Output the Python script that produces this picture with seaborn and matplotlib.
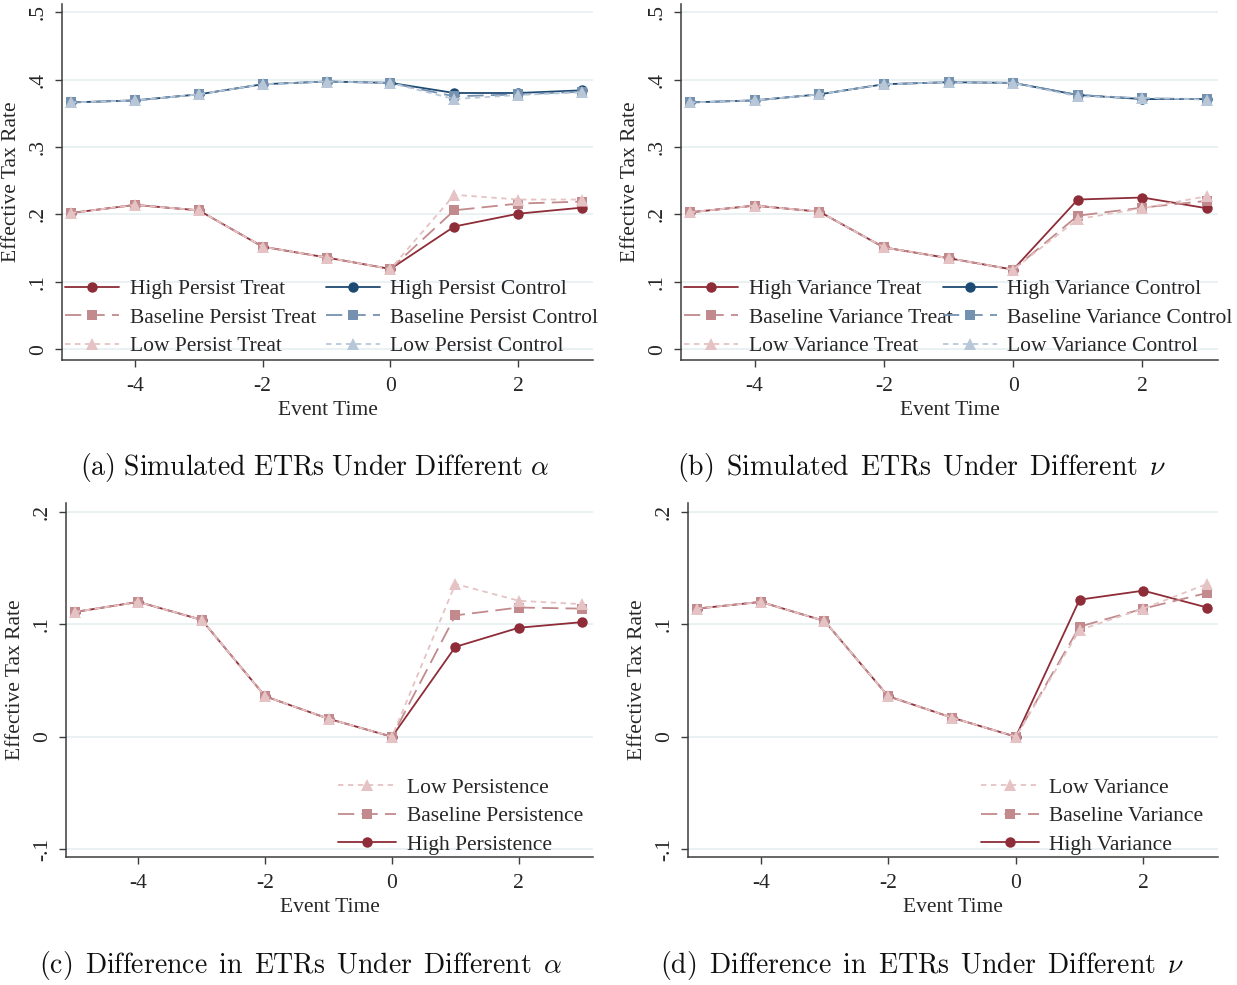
import matplotlib
matplotlib.use("Agg")
import matplotlib.pyplot as plt
import seaborn as sns
import pandas as pd

sns.set_theme(style="white")
plt.rcParams['font.family'] = ['Liberation Serif', 'DejaVu Serif']
plt.rcParams['mathtext.fontset'] = 'cm'

# ---------------- data ----------------
event_time = [-5, -4, -3, -2, -1, 0, 1, 2, 3]

# (a) Simulated ETRs under different alpha (persistence)
a_high_treat = [0.202, 0.214, 0.206, 0.152, 0.136, 0.119, 0.182, 0.201, 0.210]
a_base_treat = [0.202, 0.214, 0.206, 0.152, 0.136, 0.119, 0.206, 0.216, 0.219]
a_low_treat = [0.202, 0.214, 0.206, 0.152, 0.136, 0.119, 0.229, 0.222, 0.222]
a_high_ctrl = [0.366, 0.369, 0.378, 0.393, 0.397, 0.395, 0.380, 0.380, 0.384]
a_base_ctrl = [0.366, 0.369, 0.378, 0.393, 0.397, 0.395, 0.375, 0.378, 0.382]
a_low_ctrl = [0.366, 0.369, 0.378, 0.393, 0.397, 0.395, 0.371, 0.377, 0.381]

# (b) Simulated ETRs under different nu (variance)
b_high_treat = [0.203, 0.213, 0.204, 0.151, 0.135, 0.118, 0.222, 0.225, 0.209]
b_base_treat = [0.203, 0.213, 0.204, 0.151, 0.135, 0.118, 0.198, 0.210, 0.220]
b_low_treat = [0.203, 0.213, 0.204, 0.151, 0.135, 0.118, 0.193, 0.209, 0.227]
b_high_ctrl = [0.366, 0.369, 0.378, 0.393, 0.396, 0.395, 0.377, 0.371, 0.371]
b_base_ctrl = [0.366, 0.369, 0.378, 0.393, 0.396, 0.395, 0.377, 0.372, 0.371]
b_low_ctrl = [0.366, 0.369, 0.378, 0.393, 0.396, 0.395, 0.375, 0.373, 0.370]

# (c) Difference in ETRs under different alpha
c_high = [0.111, 0.120, 0.104, 0.036, 0.016, 0.000, 0.080, 0.097, 0.102]
c_base = [0.111, 0.120, 0.104, 0.036, 0.016, 0.000, 0.108, 0.115, 0.114]
c_low = [0.111, 0.120, 0.104, 0.036, 0.016, 0.000, 0.136, 0.121, 0.118]

# (d) Difference in ETRs under different nu
d_high = [0.114, 0.120, 0.103, 0.036, 0.017, 0.000, 0.122, 0.130, 0.115]
d_base = [0.114, 0.120, 0.103, 0.036, 0.017, 0.000, 0.098, 0.114, 0.128]
d_low = [0.114, 0.120, 0.103, 0.036, 0.017, 0.000, 0.095, 0.114, 0.136]

x_ticks = [-4, -2, 0, 2]
x_tick_labels = ["-4", "-2", "0", "2"]
top_y_ticks = [0, 0.1, 0.2, 0.3, 0.4, 0.5]
top_y_labels = ["0", ".1", ".2", ".3", ".4", ".5"]
bot_y_ticks = [-0.1, 0, 0.1, 0.2]
bot_y_labels = ["-.1", "0", ".1", ".2"]

a_labels = ["High Persist Treat", "Baseline Persist Treat", "Low Persist Treat",
            "High Persist Control", "Baseline Persist Control", "Low Persist Control"]
b_labels = ["High Variance Treat", "Baseline Variance Treat", "Low Variance Treat",
            "High Variance Control", "Baseline Variance Control", "Low Variance Control"]
c_labels = ["High Persistence", "Baseline Persistence", "Low Persistence"]
d_labels = ["High Variance", "Baseline Variance", "Low Variance"]

captions = [r"$\mathrm{(a)\ Simulated\ ETRs\ Under\ Different}\ \alpha$",
            r"$\mathrm{(b)\ \,Simulated\ \,ETRs\ \,Under\ \,Different}\ \,\nu$",
            r"$\mathrm{(c)\ \,Difference\ \,in\ \,ETRs\ \,Under\ \,Different}\ \,\alpha$",
            r"$\mathrm{(d)\ \,Difference\ \,in\ \,ETRs\ \,Under\ \,Different}\ \,\nu$"]

# ---------------- styles ----------------
TREAT = ['#8e2c37', '#c28a8c', '#e5c3c4']
CTRL = ['#1d4a72', '#7591b0', '#b7c7d8']
MARK = ['o', 's', '^']
MSIZE = [7.5, 7.5, 8.5]
DASH = ['-', (0, (9, 4)), (0, (3, 2.5))]
FS = 15.5

W, H = 1237, 985
fig = plt.figure(figsize=(W / 100, H / 100), dpi=100)


def rect(l, r, t, b):
    return [l / W, 1 - b / H, (r - l) / W, (b - t) / H]


def style_axes(ax, yt, ytl, ylim):
    ax.set_xlim(-5.14, 3.17)
    ax.set_ylim(*ylim)
    ax.set_xticks(x_ticks)
    ax.set_xticklabels(x_tick_labels)
    ax.set_yticks(yt)
    ax.set_yticklabels(ytl, rotation=90, va='center')
    for s in ['top', 'right']:
        ax.spines[s].set_visible(False)
    for s in ['left', 'bottom']:
        ax.spines[s].set_color('#3c3c3c')
        ax.spines[s].set_linewidth(1.1)
    ax.tick_params(axis='both', which='both', direction='out', length=5, width=1.0,
                   color='#3c3c3c', labelsize=FS, left=True, bottom=True)
    ax.tick_params(axis='x', pad=7)
    ax.tick_params(axis='y', pad=5)
    ax.grid(False)
    for y in yt:
        ax.axhline(y, color='#e4edf0', lw=1.1, zorder=0)
    ax.set_xlabel("Event Time", fontsize=FS, labelpad=4)
    ax.set_ylabel("Effective Tax Rate", fontsize=FS, labelpad=6)


def draw(ax, series, colors, labels):
    handles = []
    for i, (vals, col, lab) in enumerate(zip(series, colors, labels)):
        df = pd.DataFrame({"t": event_time, "v": vals})
        before = len(ax.lines)
        sns.lineplot(data=df, x="t", y="v", ax=ax, color=col, marker=MARK[i % 3],
                     markersize=MSIZE[i % 3], markeredgecolor=col, markeredgewidth=0,
                     linewidth=1.3, label=lab, legend=False, zorder=3 + i)
        line = ax.lines[before]
        line.set_linestyle(DASH[i % 3])
        handles.append(line)
    return handles


LEG = dict(frameon=False, fontsize=FS, loc='lower left', borderpad=0, borderaxespad=0,
           handletextpad=0.5, labelspacing=0.39)

# (a)
ax_a = fig.add_axes(rect(62, 593, 4, 360))
h_t = draw(ax_a, [a_high_treat, a_base_treat, a_low_treat], TREAT, a_labels[:3])
h_c = draw(ax_a, [a_high_ctrl, a_base_ctrl, a_low_ctrl], CTRL, a_labels[3:])
style_axes(ax_a, top_y_ticks, top_y_labels, (-0.016, 0.512))
ax_a.legend(h_t + h_c, a_labels, ncol=2, bbox_to_anchor=(0.006, 0.011), handlelength=2.5,
            columnspacing=0.45, **LEG)

# (b)
ax_b = fig.add_axes(rect(681, 1218, 4, 360))
h_t = draw(ax_b, [b_high_treat, b_base_treat, b_low_treat], TREAT, b_labels[:3])
h_c = draw(ax_b, [b_high_ctrl, b_base_ctrl, b_low_ctrl], CTRL, b_labels[3:])
style_axes(ax_b, top_y_ticks, top_y_labels, (-0.016, 0.512))
ax_b.legend(h_t + h_c, b_labels, ncol=2, bbox_to_anchor=(0.006, 0.011), handlelength=2.5,
            columnspacing=-0.45, **LEG)

# (c)
ax_c = fig.add_axes(rect(66, 593, 503, 857))
h = draw(ax_c, [c_high, c_base, c_low], TREAT, c_labels)
style_axes(ax_c, bot_y_ticks, bot_y_labels, (-0.107, 0.208))
ax_c.legend(h[::-1], c_labels[::-1], bbox_to_anchor=(0.516, 0.006), handlelength=2.7, **LEG)

# (d)
ax_d = fig.add_axes(rect(688, 1218, 503, 857))
h = draw(ax_d, [d_high, d_base, d_low], TREAT, d_labels)
style_axes(ax_d, bot_y_ticks, bot_y_labels, (-0.107, 0.208))
ax_d.legend(h[::-1], d_labels[::-1], bbox_to_anchor=(0.552, 0.006), handlelength=2.7, **LEG)

# captions
cap_pos = [(315, 467), (922, 467), (301, 966), (922, 966)]
for cap, (cx, cy) in zip(captions, cap_pos):
    fig.text(cx / W, 1 - cy / H, cap, fontsize=20, ha='center', va='center', color='#111111')

fig.savefig("out.png", dpi=100)
